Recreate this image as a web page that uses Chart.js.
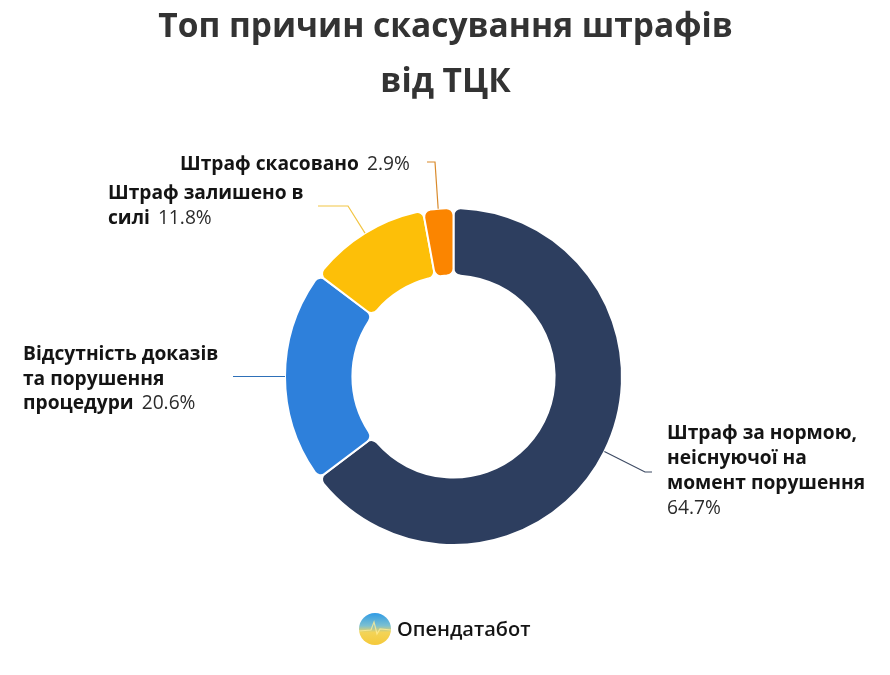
<!DOCTYPE html>
<html lang="uk">
<head>
<meta charset="utf-8">
<title>Топ причин скасування штрафів від ТЦК</title>
<script src="https://cdn.jsdelivr.net/npm/chart.js@4/dist/chart.umd.min.js"></script>
<style>
  html, body { margin: 0; padding: 0; background: #fff; }
  #wrap { width: 890px; height: 675px; }
</style>
</head>
<body>
<div id="wrap"><canvas id="donut" width="890" height="675"></canvas></div>
<script>
// data
var categories = [
  "Штраф за нормою, неіснуючої на момент порушення",
  "Відсутність доказів та порушення процедури",
  "Штраф залишено в силі",
  "Штраф скасовано"
];
var values = [64.7, 20.6, 11.8, 2.9];
var sliceColors = ["#2d3e5f", "#2e80db", "#fdbf08", "#fb8500"];
var lineColors = ["#3d4a63", "#2e70b8", "#f2c544", "#d98a2b"];
var titleLines = ["Топ причин скасування штрафів", "від ТЦК"];
var brand = "Опендатабот";

// wrapped label lines, the value is written after the last one
var labelLines = [
  ["Штраф за нормою,", "неіснуючої на", "момент порушення", ""],
  ["Відсутність доказів", "та порушення", "процедури"],
  ["Штраф залишено в", "силі"],
  ["Штраф скасовано"]
];
// where each label starts and where its leader line bends/ends
var labelPos = [
  {x: 667, y: 434, elbow: [645, 472], end: [652, 472]},
  {x: 23,  y: 354.5, elbow: [260, 376.5], end: [233, 376.5]},
  {x: 108, y: 194, elbow: [348, 206], end: [318, 206]},
  {x: 180, y: 164.5, elbow: [435, 162], end: [427, 162]}
];
var lineGap = 24.7;
var valueGap = 3; // extra space before the percentage
var boldFont = "bold 19.2px 'Open Sans', 'Noto Sans', sans-serif";
var plainFont = "19.2px 'Open Sans', 'Noto Sans', sans-serif";

// title is centred on the page, not on the ring
var titlePlugin = {
  id: "pageTitle",
  afterDraw: function(chart) {
    var ctx = chart.ctx;
    ctx.save();
    ctx.font = "bold 33.5px 'Open Sans', 'Noto Sans', sans-serif";
    ctx.fillStyle = "#333333";
    ctx.textAlign = "center";
    ctx.textBaseline = "middle";
    titleLines.forEach(function(line, i) {
      ctx.fillText(line, 445.5, 27 + i * 55);
    });
    ctx.restore();
  }
};

// draws the callouts next to the slices
var calloutPlugin = {
  id: "callouts",
  afterDatasetsDraw: function(chart) {
    var ctx = chart.ctx;
    var arcs = chart.getDatasetMeta(0).data;
    ctx.save();
    arcs.forEach(function(arc, i) {
      var p = arc.getProps(["x", "y", "startAngle", "endAngle", "outerRadius"], true);
      var mid = (p.startAngle + p.endAngle) / 2;
      var pos = labelPos[i];
      ctx.beginPath();
      ctx.moveTo(p.x + Math.cos(mid) * p.outerRadius, p.y + Math.sin(mid) * p.outerRadius);
      ctx.lineTo(pos.elbow[0], pos.elbow[1]);
      ctx.lineTo(pos.end[0], pos.end[1]);
      ctx.strokeStyle = lineColors[i];
      ctx.lineWidth = 1.2;
      ctx.stroke();

      ctx.textBaseline = "middle";
      ctx.textAlign = "left";
      var lines = labelLines[i];
      lines.forEach(function(line, n) {
        var y = pos.y + n * lineGap;
        ctx.font = boldFont;
        ctx.fillStyle = "#141414";
        ctx.fillText(line, pos.x, y);
        if (n === lines.length - 1) {
          var w = line ? ctx.measureText(line + " ").width + valueGap : 0;
          ctx.font = plainFont;
          ctx.fillStyle = "#2b2b2b";
          ctx.fillText(values[i].toFixed(1) + "%", pos.x + w, y);
        }
      });
    });
    ctx.restore();
  }
};

// logo and name under the chart
var brandPlugin = {
  id: "brand",
  afterDraw: function(chart) {
    var ctx = chart.ctx;
    var cx = 375, cy = 629, r = 16;
    ctx.save();
    var g = ctx.createLinearGradient(0, cy - r, 0, cy + r);
    g.addColorStop(0, "#2f9be6");
    g.addColorStop(0.4, "#7cc0d0");
    g.addColorStop(0.6, "#f3d458");
    g.addColorStop(1, "#f5c93a");
    ctx.beginPath();
    ctx.arc(cx, cy, r, 0, Math.PI * 2);
    ctx.fillStyle = g;
    ctx.fill();
    ctx.beginPath();
    ctx.moveTo(cx - r, cy + 2);
    ctx.lineTo(cx - 4, cy + 1);
    ctx.lineTo(cx - 1, cy - 7);
    ctx.lineTo(cx + 2, cy + 5);
    ctx.lineTo(cx + 5, cy);
    ctx.lineTo(cx + r, cy + 1);
    ctx.strokeStyle = "rgba(255,236,150,0.8)";
    ctx.lineWidth = 1.2;
    ctx.stroke();

    ctx.font = "600 20px 'Open Sans', 'Noto Sans', sans-serif";
    ctx.fillStyle = "#141414";
    ctx.textBaseline = "middle";
    ctx.textAlign = "left";
    ctx.fillText(brand, 397, 630);
    ctx.restore();
  }
};

new Chart(document.getElementById("donut"), {
  type: "doughnut",
  data: {
    labels: categories,
    datasets: [{
      data: values,
      backgroundColor: sliceColors,
      borderColor: "#ffffff",
      borderWidth: 2,
      borderRadius: 7
    }]
  },
  options: {
    responsive: false,
    animation: false,
    cutout: "60%",
    rotation: 0,
    layout: {padding: {left: 284, right: 267, top: 207, bottom: 129}},
    plugins: {
      legend: {display: false},
      title: {display: false},
      tooltip: {enabled: false}
    }
  },
  plugins: [titlePlugin, calloutPlugin, brandPlugin]
});
</script>
</body>
</html>
